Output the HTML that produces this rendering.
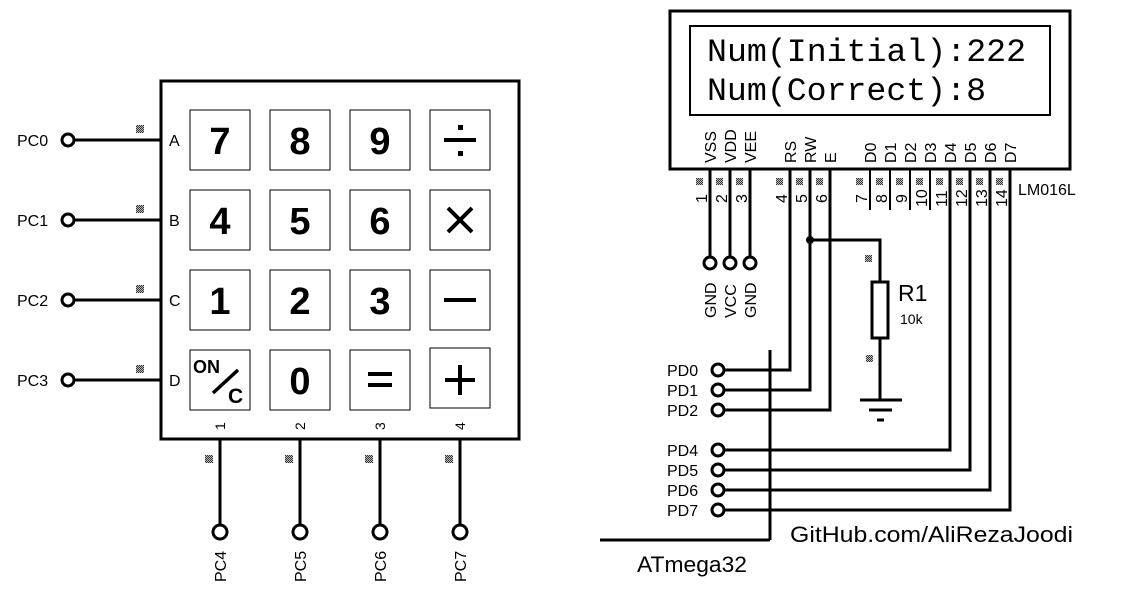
<!DOCTYPE html>
<html><head><style>body{margin:0;background:#fff}svg{display:block}</style></head><body>
<svg width="1131" height="601" viewBox="0 0 1131 601" xmlns="http://www.w3.org/2000/svg" font-family="Liberation Sans, sans-serif">
<rect width="1131" height="601" fill="#fff"/>
<defs><pattern id="g" width="2" height="2" patternUnits="userSpaceOnUse"><rect width="2" height="2" fill="#bbb"/><rect width="1" height="1" fill="#333"/><rect x="1" y="1" width="1" height="1" fill="#333"/></pattern></defs>
<g stroke="#000" stroke-width="3" fill="none">
<rect x="161" y="81" width="358" height="358"/>
<line x1="74" y1="140" x2="160" y2="140"/><line x1="74" y1="220" x2="160" y2="220"/>
<line x1="74" y1="300" x2="160" y2="300"/><line x1="74" y1="380" x2="160" y2="380"/>
<line x1="220" y1="440" x2="220" y2="525"/><line x1="300" y1="440" x2="300" y2="525"/>
<line x1="380" y1="440" x2="380" y2="525"/><line x1="460" y1="440" x2="460" y2="525"/>
<circle cx="68" cy="140" r="6"/><circle cx="68" cy="220" r="6"/><circle cx="68" cy="300" r="6"/><circle cx="68" cy="380" r="6"/>
<circle cx="220" cy="532" r="7"/><circle cx="300" cy="532" r="7"/><circle cx="380" cy="532" r="7"/><circle cx="460" cy="532" r="7"/>
<rect x="670" y="11" width="400" height="158"/>
<line x1="710" y1="170" x2="710" y2="257"/><line x1="730" y1="170" x2="730" y2="257"/><line x1="750" y1="170" x2="750" y2="257"/>
<circle cx="710" cy="263" r="6"/><circle cx="730" cy="263" r="6"/><circle cx="750" cy="263" r="6"/>
<polyline points="790,170 790,370 724,370"/>
<polyline points="810,170 810,390 724,390"/>
<polyline points="830,170 830,410 724,410"/>
<line x1="870" y1="170" x2="870" y2="210" stroke-width="2"/><line x1="890" y1="170" x2="890" y2="210" stroke-width="2"/>
<line x1="910" y1="170" x2="910" y2="210" stroke-width="2"/><line x1="930" y1="170" x2="930" y2="210" stroke-width="2"/>
<polyline points="950,170 950,450 724,450"/>
<polyline points="970,170 970,470 724,470"/>
<polyline points="990,170 990,490 724,490"/>
<polyline points="1010,170 1010,510 724,510"/>
<circle cx="718" cy="370" r="6"/><circle cx="718" cy="390" r="6"/><circle cx="718" cy="410" r="6"/>
<circle cx="718" cy="450" r="6"/><circle cx="718" cy="470" r="6"/><circle cx="718" cy="490" r="6"/><circle cx="718" cy="510" r="6"/>
<polyline points="810,240 880,240 880,282"/>
<rect x="872" y="282" width="16" height="56"/>
<line x1="880" y1="338" x2="880" y2="400"/>
<line x1="860" y1="400" x2="902" y2="400"/>
<line x1="869" y1="410" x2="892" y2="410"/>
<line x1="877" y1="420" x2="884" y2="420"/>
<line x1="770" y1="350" x2="770" y2="540"/>
<line x1="600" y1="540" x2="770" y2="540"/>
</g>
<rect x="690" y="26" width="360" height="89" fill="none" stroke="#000" stroke-width="2"/>
<circle cx="810" cy="240" r="4" fill="#000"/>
<g fill="#fff" stroke="#000" stroke-width="1">
<rect x="190" y="110" width="60" height="60"/><rect x="270" y="110" width="60" height="60"/><rect x="350" y="110" width="60" height="60"/><rect x="430" y="110" width="60" height="60"/>
<rect x="190" y="190" width="60" height="60"/><rect x="270" y="190" width="60" height="60"/><rect x="350" y="190" width="60" height="60"/><rect x="430" y="190" width="60" height="60"/>
<rect x="190" y="270" width="60" height="60"/><rect x="270" y="270" width="60" height="60"/><rect x="350" y="270" width="60" height="60"/><rect x="430" y="270" width="60" height="60"/>
<rect x="190" y="350" width="60" height="60"/><rect x="270" y="350" width="60" height="60"/><rect x="350" y="350" width="60" height="60"/><rect x="430" y="348" width="60" height="60"/>
</g>
<g font-weight="bold" font-size="38" text-anchor="middle">
<text x="220" y="154">7</text><text x="300" y="154">8</text><text x="380" y="154">9</text>
<text x="220" y="234">4</text><text x="300" y="234">5</text><text x="380" y="234">6</text>
<text x="220" y="314">1</text><text x="300" y="314">2</text><text x="380" y="314">3</text>
<text x="300" y="394">0</text>
</g>
<g stroke="#000" stroke-width="4">
<line x1="444" y1="140" x2="476" y2="140"/><line x1="448" y1="208" x2="472" y2="232"/><line x1="472" y1="208" x2="448" y2="232"/>
<line x1="444" y1="300" x2="476" y2="300"/><line x1="368" y1="374" x2="392" y2="374"/><line x1="368" y1="385" x2="392" y2="385"/>
<line x1="445" y1="380" x2="475" y2="380"/><line x1="460" y1="365" x2="460" y2="395"/>
<line x1="213" y1="393" x2="238" y2="370" stroke-width="3.5"/>
</g>
<rect x="458" y="125" width="5" height="5"/><rect x="458" y="151" width="5" height="5"/>
<text x="193" y="373" font-size="18" font-weight="bold">ON</text>
<text x="228" y="403" font-size="21" font-weight="bold">C</text>
<g font-size="16">
<text x="17" y="146">PC0</text><text x="17" y="226">PC1</text><text x="17" y="306">PC2</text><text x="17" y="386">PC3</text>
<text x="169" y="146">A</text><text x="169" y="226">B</text><text x="169" y="306">C</text><text x="169" y="386">D</text>
</g>
<g font-size="14">
<text transform="translate(225,430) rotate(-90)">1</text><text transform="translate(305,430) rotate(-90)">2</text>
<text transform="translate(385,430) rotate(-90)">3</text><text transform="translate(465,430) rotate(-90)">4</text>
</g>
<g font-size="16">
<text transform="translate(226,582) rotate(-90)">PC4</text><text transform="translate(306,582) rotate(-90)">PC5</text>
<text transform="translate(386,582) rotate(-90)">PC6</text><text transform="translate(466,582) rotate(-90)">PC7</text>
<text transform="translate(716,318) rotate(-90)">GND</text><text transform="translate(736,318) rotate(-90)">VCC</text><text transform="translate(756,318) rotate(-90)">GND</text>
<text transform="translate(716,163) rotate(-90)">VSS</text><text transform="translate(736,163) rotate(-90)">VDD</text><text transform="translate(756,163) rotate(-90)">VEE</text>
<text transform="translate(796,163) rotate(-90)">RS</text><text transform="translate(816,163) rotate(-90)">RW</text><text transform="translate(836,163) rotate(-90)">E</text>
<text transform="translate(876,163) rotate(-90)">D0</text><text transform="translate(896,163) rotate(-90)">D1</text><text transform="translate(916,163) rotate(-90)">D2</text><text transform="translate(936,163) rotate(-90)">D3</text>
<text transform="translate(956,163) rotate(-90)">D4</text><text transform="translate(976,163) rotate(-90)">D5</text><text transform="translate(996,163) rotate(-90)">D6</text><text transform="translate(1016,163) rotate(-90)">D7</text>
<text transform="translate(707,203) rotate(-90)">1</text><text transform="translate(727,203) rotate(-90)">2</text><text transform="translate(747,203) rotate(-90)">3</text>
<text transform="translate(787,203) rotate(-90)">4</text><text transform="translate(807,203) rotate(-90)">5</text><text transform="translate(827,203) rotate(-90)">6</text>
<text transform="translate(867,203) rotate(-90)">7</text><text transform="translate(887,203) rotate(-90)">8</text><text transform="translate(907,203) rotate(-90)">9</text>
<text transform="translate(927,207) rotate(-90)">10</text><text transform="translate(947,207) rotate(-90)">11</text><text transform="translate(967,207) rotate(-90)">12</text>
<text transform="translate(987,207) rotate(-90)">13</text><text transform="translate(1007,207) rotate(-90)">14</text>
<text x="1018" y="195">LM016L</text>
<text x="667" y="376">PD0</text><text x="667" y="396">PD1</text><text x="667" y="416">PD2</text>
<text x="667" y="456">PD4</text><text x="667" y="476">PD5</text><text x="667" y="496">PD6</text><text x="667" y="516">PD7</text>
<text x="900" y="324" font-size="14">10k</text>
</g>
<text x="898" y="301" font-size="23">R1</text>
<text x="637" y="572" font-size="22" textLength="110" lengthAdjust="spacingAndGlyphs">ATmega32</text>
<text x="790" y="542" font-size="22" textLength="283" lengthAdjust="spacingAndGlyphs">GitHub.com/AliRezaJoodi</text>
<g font-family="Liberation Mono, monospace" font-size="32">
<text x="707" y="61" textLength="319" lengthAdjust="spacingAndGlyphs">Num(Initial):222</text>
<text x="707" y="100" textLength="279" lengthAdjust="spacingAndGlyphs">Num(Correct):8</text>
</g>
<g fill="url(#g)">
<rect x="136" y="125" width="8" height="8"/><rect x="136" y="205" width="8" height="8"/><rect x="136" y="285" width="8" height="8"/><rect x="136" y="365" width="8" height="8"/>
<rect x="205" y="455" width="8" height="8"/><rect x="285" y="455" width="8" height="8"/><rect x="365" y="455" width="8" height="8"/><rect x="445" y="455" width="8" height="8"/>
<rect x="696" y="178" width="7" height="7"/><rect x="716" y="178" width="7" height="7"/><rect x="736" y="178" width="7" height="7"/>
<rect x="776" y="178" width="7" height="7"/><rect x="796" y="178" width="7" height="7"/><rect x="816" y="178" width="7" height="7"/>
<rect x="856" y="178" width="7" height="7"/><rect x="876" y="178" width="7" height="7"/><rect x="896" y="178" width="7" height="7"/><rect x="916" y="178" width="7" height="7"/>
<rect x="936" y="178" width="7" height="7"/><rect x="956" y="178" width="7" height="7"/><rect x="976" y="178" width="7" height="7"/><rect x="996" y="178" width="7" height="7"/>
<rect x="865" y="255" width="7" height="7"/><rect x="866" y="355" width="7" height="7"/>
</g>
</svg>
</body></html>
